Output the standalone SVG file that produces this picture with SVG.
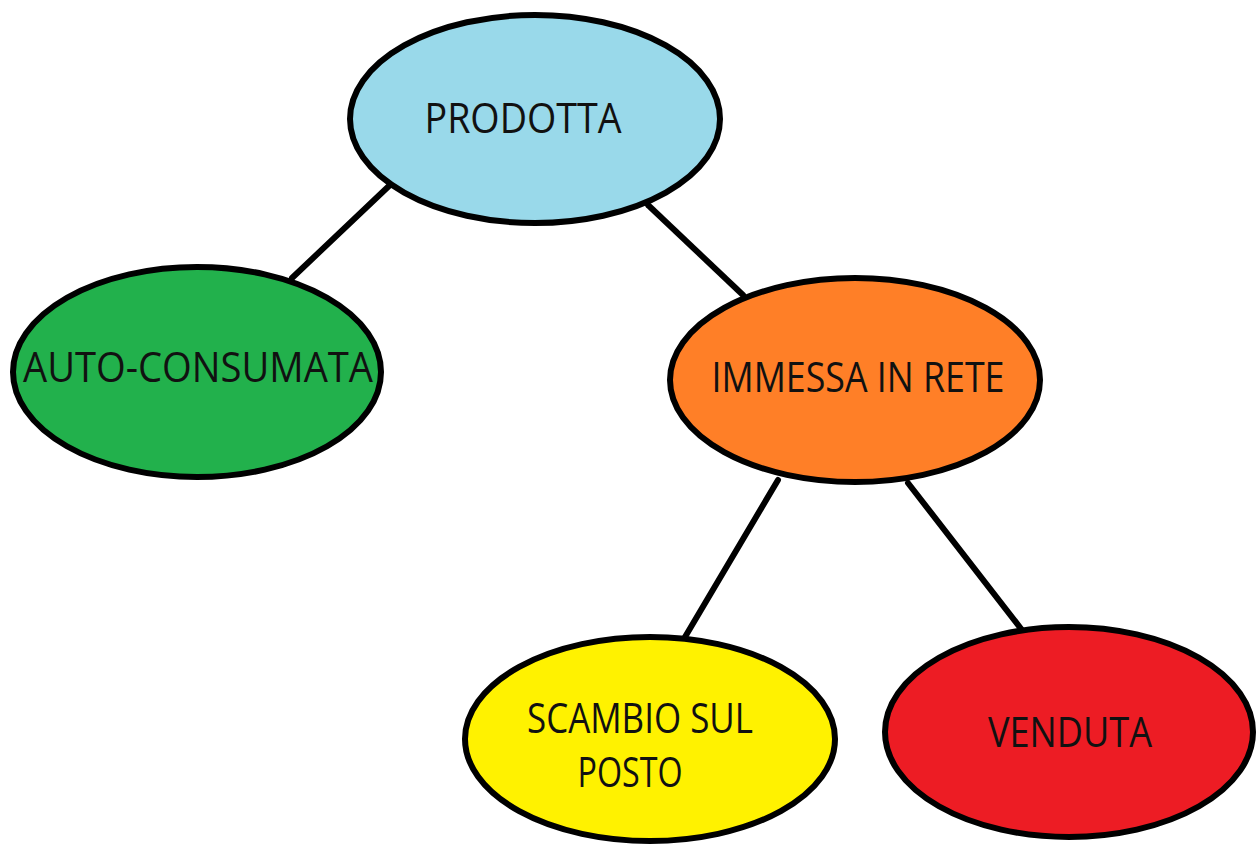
<svg xmlns="http://www.w3.org/2000/svg" width="1257" height="847" viewBox="0 0 1257 847">
<style>
.n{stroke:#000;stroke-width:6}
.t{font-family:"Open Sans","Noto Sans",sans-serif;font-size:42px;fill:#111;text-anchor:middle}
.c{stroke:#000;stroke-width:6;fill:none;stroke-linecap:round}
</style>
<rect width="1257" height="847" fill="#fff"/>
<g id="connectors">
<line class="c" x1="390" y1="185" x2="292" y2="278"/>
<line class="c" x1="648" y1="205" x2="743" y2="295"/>
<line class="c" x1="778" y1="480" x2="685" y2="637"/>
<line class="c" x1="908" y1="483" x2="1022" y2="630"/>
</g>
<g id="prodotta">
<ellipse class="n" cx="535" cy="119" rx="185" ry="104" fill="#99d9ea"/>
<text class="t" x="523" y="133" textLength="197" lengthAdjust="spacingAndGlyphs">PRODOTTA</text>
</g>
<g id="auto-consumata">
<ellipse class="n" cx="197" cy="372" rx="184" ry="105" fill="#22b14c"/>
<text class="t" x="198" y="382" textLength="350" lengthAdjust="spacingAndGlyphs">AUTO-CONSUMATA</text>
</g>
<g id="immessa">
<ellipse class="n" cx="855" cy="380" rx="185" ry="102" fill="#ff7f27"/>
<text class="t" x="858" y="392" textLength="293" lengthAdjust="spacingAndGlyphs">IMMESSA IN RETE</text>
</g>
<g id="scambio">
<ellipse class="n" cx="650" cy="739" rx="185" ry="102" fill="#fff200"/>
<text class="t" x="640" y="733" textLength="226" lengthAdjust="spacingAndGlyphs">SCAMBIO SUL</text>
<text class="t" x="630" y="787" textLength="105" lengthAdjust="spacingAndGlyphs">POSTO</text>
</g>
<g id="venduta">
<ellipse class="n" cx="1069" cy="732" rx="184" ry="105" fill="#ed1c24"/>
<text class="t" x="1070" y="747" textLength="164" lengthAdjust="spacingAndGlyphs">VENDUTA</text>
</g>
</svg>
